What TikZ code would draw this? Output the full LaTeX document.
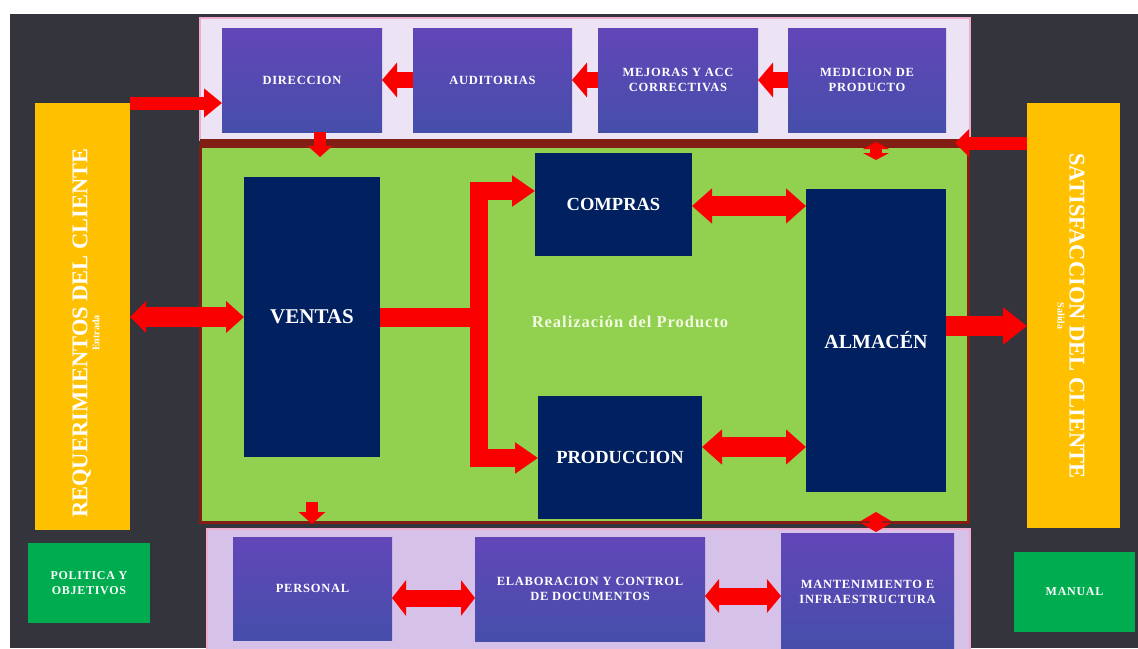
\documentclass[tikz,border=0pt]{standalone}
\usepackage{fontspec}
\setmainfont{Liberation Serif}
\usetikzlibrary{arrows.meta,calc}
\definecolor{bgdark}{RGB}{52,52,60}
\definecolor{topfill}{RGB}{236,228,244}
\definecolor{botfill}{RGB}{214,194,232}
\definecolor{pinkline}{RGB}{240,170,205}
\definecolor{pTop}{RGB}{98,70,184}
\definecolor{pBot}{RGB}{70,78,170}
\definecolor{greenA}{RGB}{146,208,80}
\definecolor{darkred}{RGB}{130,30,20}
\definecolor{navy}{RGB}{0,32,96}
\definecolor{yel}{RGB}{255,192,0}
\definecolor{greenB}{RGB}{0,172,80}
\definecolor{redc}{RGB}{250,0,0}
\definecolor{lighttext}{RGB}{242,250,225}
\begin{document}
\begin{tikzpicture}[x=1pt,y=-1pt,
  basebox/.style={anchor=north west, inner sep=0pt, outer sep=0pt, align=center, text=white},
  pbox/.style={basebox, top color=pTop, bottom color=pBot, font=\bfseries\fontsize{12.5}{15}\selectfont\addfontfeature{LetterSpace=6}},
  nbox/.style={basebox, fill=navy, font=\bfseries\fontsize{19}{22}\selectfont},
  gbox/.style={basebox, fill=greenB, font=\bfseries\fontsize{12}{15}\selectfont\addfontfeature{LetterSpace=6}},
  ybox/.style={basebox, fill=yel},
  redbar/.style={draw=redc, line width=#1, line join=miter},
]
\useasboundingbox (0,0) rectangle (1138,648);
\fill[white] (0,0) rectangle (1138,648);
\fill[bgdark] (10,14) rectangle (1138,648);

% containers
\node[basebox, fill=topfill, draw=pinkline, line width=2pt, minimum width=770, minimum height=122] (topbox) at (200,18) {};
\fill[darkred] (200,139) rectangle (970,148);
\node[basebox, fill=botfill, draw=pinkline, line width=2pt, minimum width=763, minimum height=122] (botbox) at (207,529) {};
\node[basebox, fill=greenA, draw=darkred, line width=3pt, minimum width=768, minimum height=376] (green) at (200,146) {};
\node[text=lighttext, font=\bfseries\fontsize{16.5}{18}\selectfont\addfontfeature{LetterSpace=6}] (realiz) at (630,322) {Realización del Producto};

% top boxes
\node[pbox, minimum width=160, minimum height=104] (dir) at (222,28) {DIRECCION};
\node[pbox, minimum width=159, minimum height=104] (aud) at (413,28) {AUDITORIAS};
\node[pbox, minimum width=160, minimum height=104] (mej) at (598,28) {MEJORAS Y ACC\\CORRECTIVAS};
\node[pbox, minimum width=158, minimum height=104] (med) at (788,28) {MEDICION DE\\PRODUCTO};

% green area boxes
\node[nbox, minimum width=136, minimum height=280, font=\bfseries\fontsize{21}{24}\selectfont] (ventas) at (244,177) {VENTAS};
\node[nbox, minimum width=157, minimum height=103, font=\bfseries\fontsize{18.5}{22}\selectfont] (compras) at (535,153) {COMPRAS};
\node[nbox, minimum width=164, minimum height=123, font=\bfseries\fontsize{18.5}{22}\selectfont] (prod) at (538,396) {PRODUCCION};
\node[nbox, minimum width=140, minimum height=303, font=\bfseries\fontsize{20}{24}\selectfont] (alm) at (806,189) {ALMACÉN};

% bottom boxes
\node[pbox, minimum width=159, minimum height=103] (pers) at (233,537) {PERSONAL};
\node[pbox, minimum width=230, minimum height=104] (elab) at (475,537) {ELABORACION Y CONTROL\\DE DOCUMENTOS};
\node[pbox, minimum width=173, minimum height=118] (mant) at (781,533) {MANTENIMIENTO E\\INFRAESTRUCTURA};

% side green boxes
\node[gbox, minimum width=122, minimum height=80] (pol) at (28,543) {POLITICA Y\\OBJETIVOS};
\node[gbox, minimum width=121, minimum height=80] (manual) at (1014,552) {MANUAL};

% yellow side boxes
\node[ybox, minimum width=95, minimum height=427] (req) at (35,103) {};
\node[rotate=90, align=center, text=white, inner sep=0pt] (reqtxt) at (86,333)
  {{\bfseries\fontsize{22.5}{27}\selectfont REQUERIMIENTOS DEL CLIENTE}\\{\bfseries\fontsize{10}{12}\selectfont Entrada}};
\node[ybox, minimum width=93, minimum height=425] (sat) at (1027,103) {};
\node[rotate=-90, align=center, text=white, inner sep=0pt] (sattxt) at (1071,316)
  {{\bfseries\fontsize{22.5}{27}\selectfont SATISFACCION DEL CLIENTE}\\{\bfseries\fontsize{10}{12}\selectfont Salida}};

% arrows: top row
\draw[redbar=13pt, -{Triangle[length=18pt,width=28pt]}] (req.north east) -- (req.north east -| dir.west);
\draw[redbar=16pt, -{Triangle[length=15pt,width=34pt]}] (aud.west) -- (dir.east);
\draw[redbar=16pt, -{Triangle[length=15pt,width=34pt]}] (mej.west) -- (aud.east);
\draw[redbar=16pt, -{Triangle[length=15pt,width=34pt]}] (med.west) -- (mej.east);
\draw[redbar=12pt, -{Triangle[length=11pt,width=24pt]}] ($(dir.south)+(18,0)$) -- ($(dir.south)+(18,25)$);
\draw[redbar=12pt, {Triangle[length=7pt,width=26pt]}-{Triangle[length=7pt,width=26pt]}]
  ($(med.south -| alm.north)+(0,10)$) -- ($(med.south -| alm.north)+(0,28)$);
\draw[redbar=13pt, -{Triangle[length=14pt,width=27pt]}] (sat.west |- 0,143) -- (955,143);

% arrows: middle
\draw[redbar=20pt, {Triangle[length=16pt,width=31pt]}-{Triangle[length=18pt,width=31pt]}] (req.east |- ventas.west) -- (ventas.west);
\coordinate (brtop) at (479,191);
\coordinate (brbot) at (479,458);
\draw[redbar=19pt] (ventas.east) -- (ventas.east -| brtop);
\draw[redbar=18pt, -{Triangle[length=23pt,width=30pt]}] (brbot) -- (brtop) -- (brtop -| compras.west);
\draw[redbar=18pt, -{Triangle[length=23pt,width=30pt]}] (brtop) -- (brbot) -- (brbot -| prod.west);
\draw[redbar=20pt, {Triangle[length=20pt,width=34pt]}-{Triangle[length=20pt,width=34pt]}] (compras.east |- 0,206) -- (alm.west |- 0,206);
\draw[redbar=20pt, {Triangle[length=20pt,width=34pt]}-{Triangle[length=20pt,width=34pt]}] (prod.east |- 0,447) -- (alm.west |- 0,447);
\draw[redbar=20pt, -{Triangle[length=24pt,width=36pt]}] (alm.east |- 0,326) -- (sat.west |- 0,326);

% arrows: bottom
\draw[redbar=12pt, -{Triangle[length=12pt,width=26pt]}] ($(green.south -| ventas.south)+(0,-20)$) -- ($(green.south -| ventas.south)+(0,2)$);
\draw[redbar=12pt, {Triangle[length=9pt,width=30pt]}-{Triangle[length=9pt,width=30pt]}]
  ($(green.south -| alm.south)+(0,-10)$) -- ($(green.south -| alm.south)+(0,10)$);
\draw[redbar=17pt, {Triangle[length=14pt,width=35pt]}-{Triangle[length=14pt,width=35pt]}] (pers.east |- 0,598) -- (elab.west |- 0,598);
\draw[redbar=17pt, {Triangle[length=14pt,width=33pt]}-{Triangle[length=14pt,width=33pt]}] (elab.east |- 0,596) -- (mant.west |- 0,596);
\end{tikzpicture}
\end{document}
